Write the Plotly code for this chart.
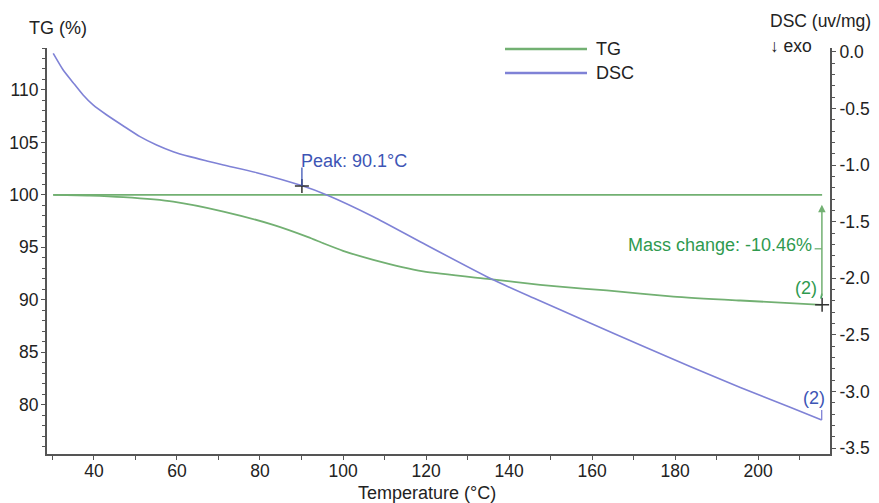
import plotly.graph_objects as go

# ---------------- data ----------------
tg_temp = [30.2, 39.0, 47.1, 59.1, 71.2, 83.2, 91.6, 95.3, 100.0, 107.3, 119.3, 135.4,
           147.5, 151.5, 163.5, 179.6, 195.7, 215.3]
tg_mass = [100.0, 99.93, 99.78, 99.36, 98.41, 97.14, 95.97, 95.38, 94.67, 93.81, 92.70, 91.97,
           91.43, 91.27, 90.89, 90.31, 89.93, 89.52]

dsc_temp = [30.2, 32.6, 35.0, 37.4, 39.8, 43.1, 47.1, 51.1, 55.1, 59.1, 63.1, 67.2, 71.2,
            79.2, 90.0, 96.1, 107.3, 119.3, 135.4, 145.9, 159.5, 171.6, 183.6, 195.7, 207.7, 215.3]
dsc_val = [-0.012, -0.159, -0.271, -0.380, -0.468, -0.557, -0.654, -0.748, -0.822, -0.881,
           -0.925, -0.963, -0.999, -1.067, -1.181, -1.264, -1.456, -1.691, -2.000, -2.175,
           -2.395, -2.590, -2.780, -2.965, -3.140, -3.253]

tg_baseline_temp = [30.2, 215.4]
tg_baseline_val = [100.0, 100.0]

peak_temp = 90.1
peak_dsc = -1.184
tg_end_temp = 215.4
tg_end_val = 89.52
mass_change_text = "Mass change: -10.46%"

x_ticks = [40, 60, 80, 100, 120, 140, 160, 180, 200]
tg_ticks = [80, 85, 90, 95, 100, 105, 110]
dsc_ticks = [0.0, -0.5, -1.0, -1.5, -2.0, -2.5, -3.0, -3.5]
dsc_tick_labels = ["0.0", "-0.5", "-1.0", "-1.5", "-2.0", "-2.5", "-3.0", "-3.5"]

# ---------------- style ----------------
FONT = "Liberation Sans, Arial, Helvetica, sans-serif"
FS = 18
TFS = 17.5
TG_LINE = "#72b072"
DSC_LINE = "#7f82d6"
TG_TEXT = "#2f9a4f"
DSC_TEXT = "#3d55b5"
AXIS = "#555555"
TXT = "#222222"

fig = go.Figure()

fig.add_trace(go.Scatter(x=tg_baseline_temp, y=tg_baseline_val, mode="lines",
                         line=dict(color=TG_LINE, width=1.8), showlegend=False, yaxis="y"))
fig.add_trace(go.Scatter(x=tg_temp, y=tg_mass, mode="lines", name="TG",
                         line=dict(color=TG_LINE, width=1.8, shape="spline", smoothing=0.6),
                         showlegend=False, yaxis="y"))
fig.add_trace(go.Scatter(x=dsc_temp, y=dsc_val, mode="lines", name="DSC",
                         line=dict(color=DSC_LINE, width=1.6, shape="spline", smoothing=0.6),
                         showlegend=False, yaxis="y2"))
# markers
fig.add_trace(go.Scatter(x=[peak_temp], y=[peak_dsc], mode="markers", yaxis="y2", showlegend=False,
                         marker=dict(symbol="cross-thin", size=10, line=dict(color="#333333", width=1.5))))
fig.add_trace(go.Scatter(x=[tg_end_temp], y=[tg_end_val], mode="markers", yaxis="y", showlegend=False,
                         marker=dict(symbol="cross-thin", size=10, line=dict(color="#333333", width=1.5))))

# page has an 8px body margin: figure is 8px smaller so it fits in 879x503
W, H = 871, 495
ML, MR, MT, MB = 39, 49, 40, 49
PW, PH = W - ML - MR, H - MT - MB
OFF = 8


def px(xs):
    return (xs - OFF - ML) / PW


def py(ys):
    return (H - MB - (ys - OFF)) / PH


annotations = [
    dict(text="TG (%)", x=px(58), y=py(28), xref="paper", yref="paper", showarrow=False,
         xanchor="center", yanchor="middle", font=dict(size=FS, color=TXT)),
    dict(text="DSC (uv/mg)", x=px(768), y=py(21), xref="paper", yref="paper", showarrow=False,
         xanchor="left", yanchor="middle", font=dict(size=17.5, color=TXT)),
    dict(text="↓ exo", x=px(768), y=py(46), xref="paper", yref="paper", showarrow=False,
         xanchor="left", yanchor="middle", font=dict(size=17.5, color=TXT)),
    dict(text="Temperature (°C)", x=px(427), y=py(493), xref="paper", yref="paper", showarrow=False,
         xanchor="center", yanchor="middle", font=dict(size=FS, color=TXT)),
    # legend texts
    dict(text="TG", x=px(594), y=py(49), xref="paper", yref="paper", showarrow=False,
         xanchor="left", yanchor="middle", font=dict(size=FS, color=TXT)),
    dict(text="DSC", x=px(594), y=py(73), xref="paper", yref="paper", showarrow=False,
         xanchor="left", yanchor="middle", font=dict(size=FS, color=TXT)),
    # peak
    dict(text="Peak: 90.1°C", x=peak_temp, y=-0.961, xref="x", yref="y2", showarrow=False,
         xanchor="left", yanchor="middle", xshift=-3, font=dict(size=FS, color=DSC_TEXT)),
    # mass change
    dict(text=mass_change_text, x=213.4, y=95.24, xref="x", yref="y", showarrow=False,
         xanchor="right", yanchor="middle", font=dict(size=FS, color=TG_TEXT)),
    dict(text="(2)", x=211.6, y=91.14, xref="x", yref="y", showarrow=False,
         xanchor="center", yanchor="middle", font=dict(size=FS, color=TG_TEXT)),
    dict(text="(2)", x=213.5, y=-3.058, xref="x", yref="y2", showarrow=False,
         xanchor="center", yanchor="middle", font=dict(size=FS, color=DSC_TEXT)),
    # mass change arrow
    dict(text="", x=215.35, y=99.05, ax=215.35, ay=90.2, xref="x", yref="y",
         axref="x", ayref="y", showarrow=True, arrowhead=2, arrowsize=1, arrowwidth=1.5,
         arrowcolor=TG_LINE, standoff=0, startstandoff=0),
]

shapes = [
    # legend lines
    dict(type="line", xref="paper", yref="paper", x0=px(505), x1=px(587), y0=py(49), y1=py(49),
         line=dict(color=TG_LINE, width=2.5)),
    dict(type="line", xref="paper", yref="paper", x0=px(505), x1=px(587), y0=py(73), y1=py(73),
         line=dict(color=DSC_LINE, width=2.5)),
    # peak leader
    dict(type="line", xref="x", yref="y2", x0=peak_temp, x1=peak_temp, y0=-1.02, y1=peak_dsc,
         line=dict(color=DSC_TEXT, width=1.3)),
    # mass change connector
    dict(type="line", xref="x", yref="y", x0=213.6, x1=215.35, y0=94.86, y1=94.86,
         line=dict(color=TG_LINE, width=1.3)),
    # DSC end hook
    dict(type="line", xref="x", yref="y2", x0=215.3, x1=215.3, y0=-3.165, y1=-3.253,
         line=dict(color=DSC_LINE, width=1.3)),
    # TG (2) hook
    dict(type="line", xref="x", yref="y", x0=215.35, x1=215.1, y0=90.6, y1=90.1,
         line=dict(color=TG_TEXT, width=1.5)),
]

common = dict(showline=True, linecolor=AXIS, linewidth=2, showgrid=False, zeroline=False,
              automargin=False, tickfont=dict(size=TFS, color=TXT))

fig.update_layout(
    width=W, height=H,
    margin=dict(l=ML, r=MR, t=MT, b=MB, autoexpand=False),
    paper_bgcolor="white", plot_bgcolor="white",
    font=dict(family=FONT, size=FS, color=TXT),
    showlegend=False,
    annotations=annotations,
    shapes=shapes,
    xaxis=dict(range=[28.7, 217.3], tickmode="array", tickvals=x_ticks,
               ticks="outside", ticklen=4, tickwidth=1.3, tickcolor=AXIS, ticklabelstandoff=-4,
               minor=dict(tickmode="linear", tick0=30, dtick=10, ticks="outside", ticklen=4,
                          tickwidth=1.3, tickcolor=AXIS, showgrid=False),
               **common),
    yaxis=dict(range=[75.3, 114.0], tickmode="array", tickvals=tg_ticks,
               ticks="outside", ticklen=4, tickwidth=1.3, tickcolor=AXIS, ticklabelstandoff=-1,
               minor=dict(tickmode="linear", tick0=75, dtick=1, ticks="outside", ticklen=3,
                          tickwidth=1, tickcolor=AXIS, showgrid=False),
               **common),
    yaxis2=dict(range=[-3.553, 0.035], overlaying="y", side="right", tickmode="array",
                tickvals=dsc_ticks, ticktext=dsc_tick_labels,
                ticks="outside", ticklen=4, tickwidth=1.3, tickcolor=AXIS,
                minor=dict(tickmode="linear", tick0=0, dtick=0.1, ticks="outside", ticklen=3,
                           tickwidth=1, tickcolor=AXIS, showgrid=False),
                **common),
)

fig.write_html("out.html")
